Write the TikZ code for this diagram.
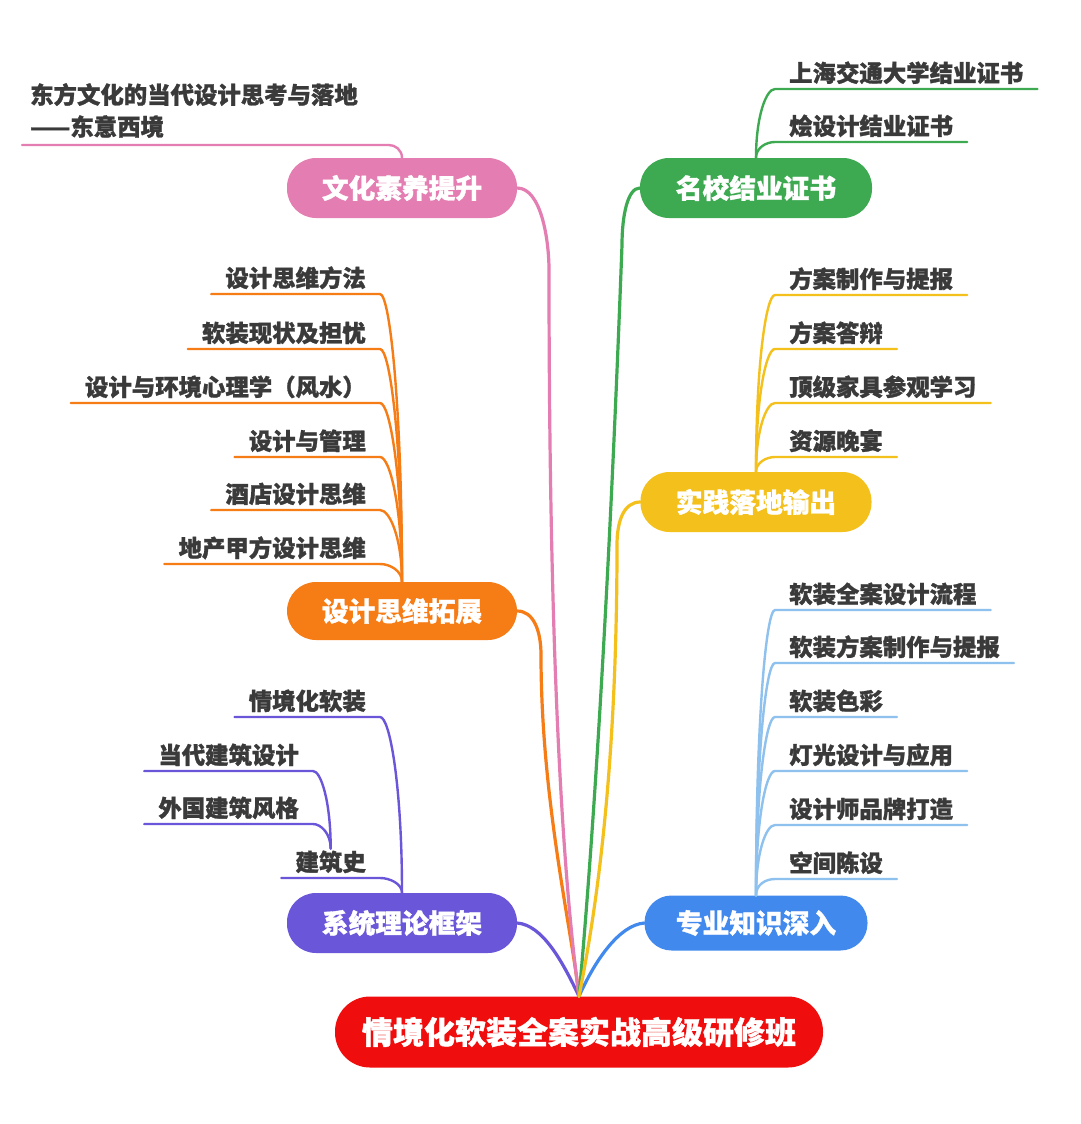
\documentclass[tikz,border=0pt]{standalone}
\usepackage{fontspec}
\setmainfont{Noto Sans CJK SC}[BoldFeatures={FakeBold=1.2}]
\definecolor{cpink}{HTML}{E47EB2}
\definecolor{cgreen}{HTML}{3DAA52}
\definecolor{corange}{HTML}{F67C16}
\definecolor{cyellow}{HTML}{F4C01B}
\definecolor{cpurple}{HTML}{6A56D9}
\definecolor{cblue}{HTML}{4289EE}
\definecolor{cltblue}{HTML}{8EC1EE}
\definecolor{cred}{HTML}{F00D0D}
\definecolor{txt}{HTML}{3A3A3A}
\tikzset{
  pill/.style={rounded corners=29pt, minimum height=60pt, minimum width=230pt, text=white,
    font=\bfseries\fontsize{26.7}{30}\selectfont, inner sep=0pt},
  leaf/.style={text=txt, font=\bfseries\fontsize{23.4}{32}\selectfont, inner xsep=14pt,
    inner ysep=3pt, text height=19pt, text depth=4pt},
  mainline/.style={line width=3.2pt, line cap=round},
  leafline/.style={line width=2.4pt, line cap=round},
}
\begin{document}
\begin{tikzpicture}[x=1pt, y=-1pt]
\fill[white] (0,0) rectangle (1080,1124);
\useasboundingbox (0,0) rectangle (1080,1124);

% root
\node[pill, fill=cred, minimum width=488pt, minimum height=71pt, rounded corners=35pt,
  font=\bfseries\fontsize{31}{36}\selectfont] (root) at (579,1032) {情境化软装全案实战高级研修班};

% main topics
\node[pill, fill=cpink] (pink) at (402,188) {文化素养提升};
\node[pill, fill=cgreen, minimum width=232pt] (green) at (756,188) {名校结业证书};
\node[pill, fill=corange, minimum height=58pt] (orange) at (402,611) {设计思维拓展};
\node[pill, fill=cyellow, minimum width=231pt] (yellow) at (756,502) {实践落地输出};
\node[pill, fill=cpurple] (purple) at (402,923) {系统理论框架};
\node[pill, fill=cblue, minimum width=223pt, minimum height=55pt, rounded corners=27pt] (blue) at (756,923) {专业知识深入};

% main connectors
\coordinate (mPink) at (549,270);
\coordinate (mOrange) at (541,655);
\coordinate (mGreen) at (622,245);
\coordinate (mYellow) at (617,545);
\draw[mainline, cpurple] (purple.east) .. controls +(25,2) and +(-17,-36) .. (root.north);
\draw[mainline, cblue] (blue.west) .. controls +(-25,2) and +(16,-36) .. (root.north);
\draw[mainline, corange] (orange.east) .. controls +(16,0) and +(0,-25) .. (mOrange)
  .. controls +(0,145) and +(-7,-66) .. (root.north);
\draw[mainline, cpink] (pink.east) .. controls +(24,0) and +(0,-30) .. (mPink)
  .. controls +(0,430) and +(-13,-96) .. (root.north);
\draw[mainline, cgreen] (green.west) .. controls +(-12,0) and +(0,-30) .. (mGreen)
  .. controls +(-17,455) and +(6,-66) .. (root.north);
\draw[mainline, cyellow] (yellow.west) .. controls +(-16,0) and +(0,-25) .. (mYellow)
  .. controls +(0,255) and +(11,-56) .. (root.north);

% pink child
\node[anchor=north west, inner sep=0pt, align=left, text=txt,
  font=\bfseries\fontsize{23.4}{32}\selectfont] (pc) at (30,83) {东方文化的当代设计思考与落地\\——东意西境};
\coordinate (pcL) at (22,145);
\coordinate (pcR) at (389,145);
\draw[leafline, cpink] (pink.north) .. controls +(0,-8) and +(6,0) .. (pcR) -- (pcL);

% green children
\node[leaf, anchor=south west] (g1) at (775,89) {上海交通大学结业证书};
\node[leaf, anchor=south west] (g2) at (775,142) {烩设计结业证书};
\draw[leafline, cgreen] (green.north) .. controls +(0,-41) and +(-9,0) .. (g1.south west) -- (g1.south east);
\draw[leafline, cgreen] (green.north) .. controls +(0,-10) and +(-9,0) .. (g2.south west) -- (g2.south east);

% orange children
\node[leaf, anchor=south east] (o1) at (380,294) {设计思维方法};
\node[leaf, anchor=south east] (o2) at (380,349) {软装现状及担忧};
\node[leaf, anchor=south east] (o3) at (380,403) {设计与环境心理学（风水）};
\node[leaf, anchor=south east] (o4) at (380,457) {设计与管理};
\node[leaf, anchor=south east] (o5) at (380,510) {酒店设计思维};
\node[leaf, anchor=south east] (o6) at (380,564) {地产甲方设计思维};
\draw[leafline, corange] (orange.north) .. controls +(0,-173) and +(10,0) .. (o1.south east) -- (o1.south west);
\draw[leafline, corange] (orange.north) .. controls +(0,-140) and +(10,0) .. (o2.south east) -- (o2.south west);
\draw[leafline, corange] (orange.north) .. controls +(0,-107) and +(10,0) .. (o3.south east) -- (o3.south west);
\draw[leafline, corange] (orange.north) .. controls +(0,-75) and +(10,0) .. (o4.south east) -- (o4.south west);
\draw[leafline, corange] (orange.north) .. controls +(0,-43) and +(10,0) .. (o5.south east) -- (o5.south west);
\draw[leafline, corange] (orange.north) .. controls +(0,-11) and +(10,0) .. (o6.south east) -- (o6.south west);

% yellow children
\node[leaf, anchor=south west] (y1) at (775,295) {方案制作与提报};
\node[leaf, anchor=south west] (y2) at (775,349) {方案答辩};
\node[leaf, anchor=south west] (y3) at (775,403) {顶级家具参观学习};
\node[leaf, anchor=south west] (y4) at (775,457) {资源晚宴};
\draw[leafline, cyellow] (yellow.north) .. controls +(0,-106) and +(-9,0) .. (y1.south west) -- (y1.south east);
\draw[leafline, cyellow] (yellow.north) .. controls +(0,-74) and +(-9,0) .. (y2.south west) -- (y2.south east);
\draw[leafline, cyellow] (yellow.north) .. controls +(0,-41) and +(-9,0) .. (y3.south west) -- (y3.south east);
\draw[leafline, cyellow] (yellow.north) .. controls +(0,-9) and +(-9,0) .. (y4.south west) -- (y4.south east);

% blue children
\node[leaf, anchor=south west] (b1) at (775,610) {软装全案设计流程};
\node[leaf, anchor=south west] (b2) at (775,663) {软装方案制作与提报};
\node[leaf, anchor=south west] (b3) at (775,717) {软装色彩};
\node[leaf, anchor=south west] (b4) at (775,771) {灯光设计与应用};
\node[leaf, anchor=south west] (b5) at (775,825) {设计师品牌打造};
\node[leaf, anchor=south west] (b6) at (775,879) {空间陈设};
\draw[leafline, cltblue] (blue.north) .. controls +(0,-172) and +(-9,0) .. (b1.south west) -- (b1.south east);
\draw[leafline, cltblue] (blue.north) .. controls +(0,-140) and +(-9,0) .. (b2.south west) -- (b2.south east);
\draw[leafline, cltblue] (blue.north) .. controls +(0,-108) and +(-9,0) .. (b3.south west) -- (b3.south east);
\draw[leafline, cltblue] (blue.north) .. controls +(0,-76) and +(-9,0) .. (b4.south west) -- (b4.south east);
\draw[leafline, cltblue] (blue.north) .. controls +(0,-43) and +(-9,0) .. (b5.south west) -- (b5.south east);
\draw[leafline, cltblue] (blue.north) .. controls +(0,-11) and +(-9,0) .. (b6.south west) -- (b6.south east);

% purple children
\node[leaf, anchor=south east] (p1) at (380,717) {情境化软装};
\node[leaf, anchor=south east] (p2) at (380,878) {建筑史};
\node[leaf, anchor=south east] (p2a) at (313,771) {当代建筑设计};
\node[leaf, anchor=south east] (p2b) at (313,824) {外国建筑风格};
\draw[leafline, cpurple] (purple.north) .. controls +(0,-106) and +(10,0) .. (p1.south east) -- (p1.south west);
\draw[leafline, cpurple] (purple.north) .. controls +(0,-9) and +(10,0) .. (p2.south east) -- (p2.south west);
\draw[leafline, cpurple] (p2.north) .. controls +(0,-47) and +(8,0) .. (p2a.south east) -- (p2a.south west);
\draw[leafline, cpurple] (p2.north) .. controls +(0,-15) and +(8,0) .. (p2b.south east) -- (p2b.south west);
\end{tikzpicture}
\end{document}
